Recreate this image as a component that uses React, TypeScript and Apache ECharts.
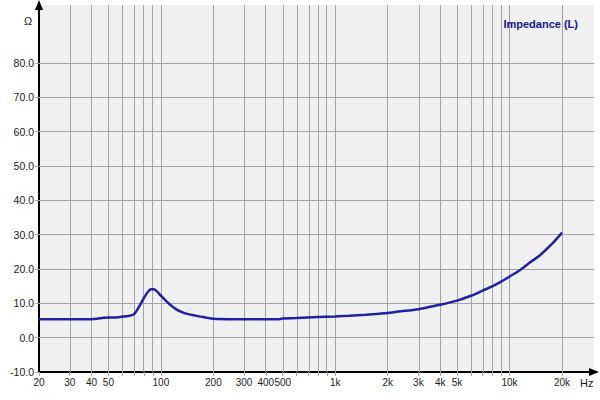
import * as echarts from "echarts";
import { useEffect, useRef } from "react";

/** 频率点（Hz）与阻抗（Ω），按图读数。 */
const FREQ_HZ = [
  20, 25, 30, 35, 40, 43, 47, 55, 60, 66, 70, 75, 80, 85, 89, 93, 97, 102, 108, 115, 122, 130,
  140, 155, 180, 200, 250, 300, 400, 480, 500, 600, 800, 1000, 1200, 1500, 1800, 2000, 2300,
  3000, 4000, 5000, 6000, 7000, 8000, 9000, 10000, 11500, 13000, 15000, 17500, 20000,
];
const IMPEDANCE_OHM = [
  5.4, 5.4, 5.4, 5.4, 5.4, 5.5, 5.8, 5.9, 6.1, 6.4, 6.8, 9.0, 11.6, 13.6, 14.2, 13.9, 13.0, 11.8,
  10.5, 9.3, 8.3, 7.6, 7.0, 6.5, 5.9, 5.5, 5.4, 5.4, 5.4, 5.4, 5.6, 5.7, 6.0, 6.2, 6.4, 6.7, 7.0,
  7.2, 7.6, 8.3, 9.6, 10.8, 12.2, 13.7, 15.0, 16.4, 17.8, 19.7, 21.8, 24.1, 27.3, 30.6,
];

/** 频率网格线（Hz）与带标签的刻度。 */
const X_GRID_HZ = [
  20, 30, 40, 50, 60, 70, 80, 90, 100, 200, 300, 400, 500, 600, 700, 800, 900, 1000, 2000, 3000,
  4000, 5000, 6000, 7000, 8000, 9000, 10000, 20000,
];
const X_LABEL_HZ = [20, 30, 40, 50, 100, 200, 300, 400, 500, 1000, 2000, 3000, 4000, 5000, 10000, 20000];
const Y_TICKS = [-10, 0, 10, 20, 30, 40, 50, 60, 70, 80];

const X_MIN_HZ = 20;
const X_MAX_HZ = 30500;
const Y_MIN = -10;
const Y_MAX = 96.9;

const FONT = "'Liberation Sans', Arial, sans-serif";
const GRID_COLOR = "#a3a3a3";
const CURVE_COLOR = "#2020a0";

const lg = (hz: number) => Math.log10(hz);

/** 对数坐标值 → 「20」「1k」式频率标签。 */
function fmtHz(v: number): string {
  const hz = Math.round(Math.pow(10, v));
  return hz >= 1000 ? `${Math.round(hz / 1000)}k` : `${hz}`;
}

function buildOption(): echarts.EChartsOption {
  // 网格线走 markLine（x 轴在 log10 空间，竖线落在 20..90、100..900、1k..9k、10k、20k）
  const gridLines = [
    ...X_GRID_HZ.slice(1).map((hz) => ({ xAxis: lg(hz) })),
    ...Y_TICKS.slice(1).map((v) => ({ yAxis: v })),
  ];
  return {
    animation: false,
    backgroundColor: "#ffffff",
    title: {
      text: "Impedance (L)",
      right: 17,
      top: 13,
      textStyle: { color: "#14148c", fontFamily: FONT, fontSize: 11, fontWeight: "bold" },
    },
    grid: {
      left: 39,
      right: 6,
      top: 5,
      bottom: 28,
      show: true,
      backgroundColor: "#f0f0f0",
      borderWidth: 0,
    },
    xAxis: {
      type: "value",
      min: lg(X_MIN_HZ),
      max: lg(X_MAX_HZ),
      axisLine: {
        onZero: false,
        lineStyle: { color: "#000000", width: 2 },
        symbol: ["none", "triangle"],
        symbolSize: [8, 10],
      },
      axisTick: {
        customValues: X_GRID_HZ.map(lg),
        length: 4,
        lineStyle: { color: GRID_COLOR },
      },
      axisLabel: {
        customValues: X_LABEL_HZ.map(lg),
        formatter: (v: number) => fmtHz(v),
        color: "#1a1a1a",
        fontFamily: FONT,
        fontSize: 10,
        margin: 5,
      },
      splitLine: { show: false },
    },
    yAxis: {
      type: "value",
      min: Y_MIN,
      max: Y_MAX,
      axisLine: {
        show: true,
        onZero: false,
        lineStyle: { color: "#000000", width: 2 },
        symbol: ["none", "triangle"],
        symbolSize: [8, 10],
      },
      axisTick: {
        show: true,
        customValues: Y_TICKS,
        length: 4,
        lineStyle: { color: GRID_COLOR },
      },
      axisLabel: {
        customValues: Y_TICKS,
        formatter: (v: number) => v.toFixed(1),
        color: "#1a1a1a",
        fontFamily: FONT,
        fontSize: 10.5,
        margin: 5,
      },
      splitLine: { show: false },
    },
    graphic: {
      elements: [
        {
          type: "text",
          left: 24,
          top: 15,
          style: { text: "Ω", fill: "#1a1a1a", font: `11px ${FONT}` },
        },
        {
          type: "text",
          left: 580,
          top: 377,
          style: { text: "Hz", fill: "#1a1a1a", font: `11px ${FONT}` },
        },
      ],
    },
    series: [
      {
        type: "line",
        z: 3,
        data: FREQ_HZ.map((hz, i) => [lg(hz), IMPEDANCE_OHM[i]]),
        showSymbol: false,
        smooth: 0.3,
        lineStyle: { color: CURVE_COLOR, width: 2.5 },
        markLine: {
          silent: true,
          z: 1,
          symbol: "none",
          animation: false,
          label: { show: false },
          lineStyle: { color: GRID_COLOR, width: 1, type: "solid" },
          emphasis: { disabled: true },
          data: gridLines,
        },
      },
    ],
  };
}

export default function App() {
  const elRef = useRef<HTMLDivElement | null>(null);

  useEffect(() => {
    const el = elRef.current;
    if (!el) {
      return undefined;
    }
    const chart = echarts.init(el, undefined, { renderer: "svg" });
    chart.setOption(buildOption());
    return () => {
      chart.dispose();
    };
  }, []);

  return (
    <div
      ref={elRef}
      style={{ position: "fixed", left: 0, top: 0, width: 600, height: 400 }}
      role="img"
      aria-label="Impedance chart"
    />
  );
}
